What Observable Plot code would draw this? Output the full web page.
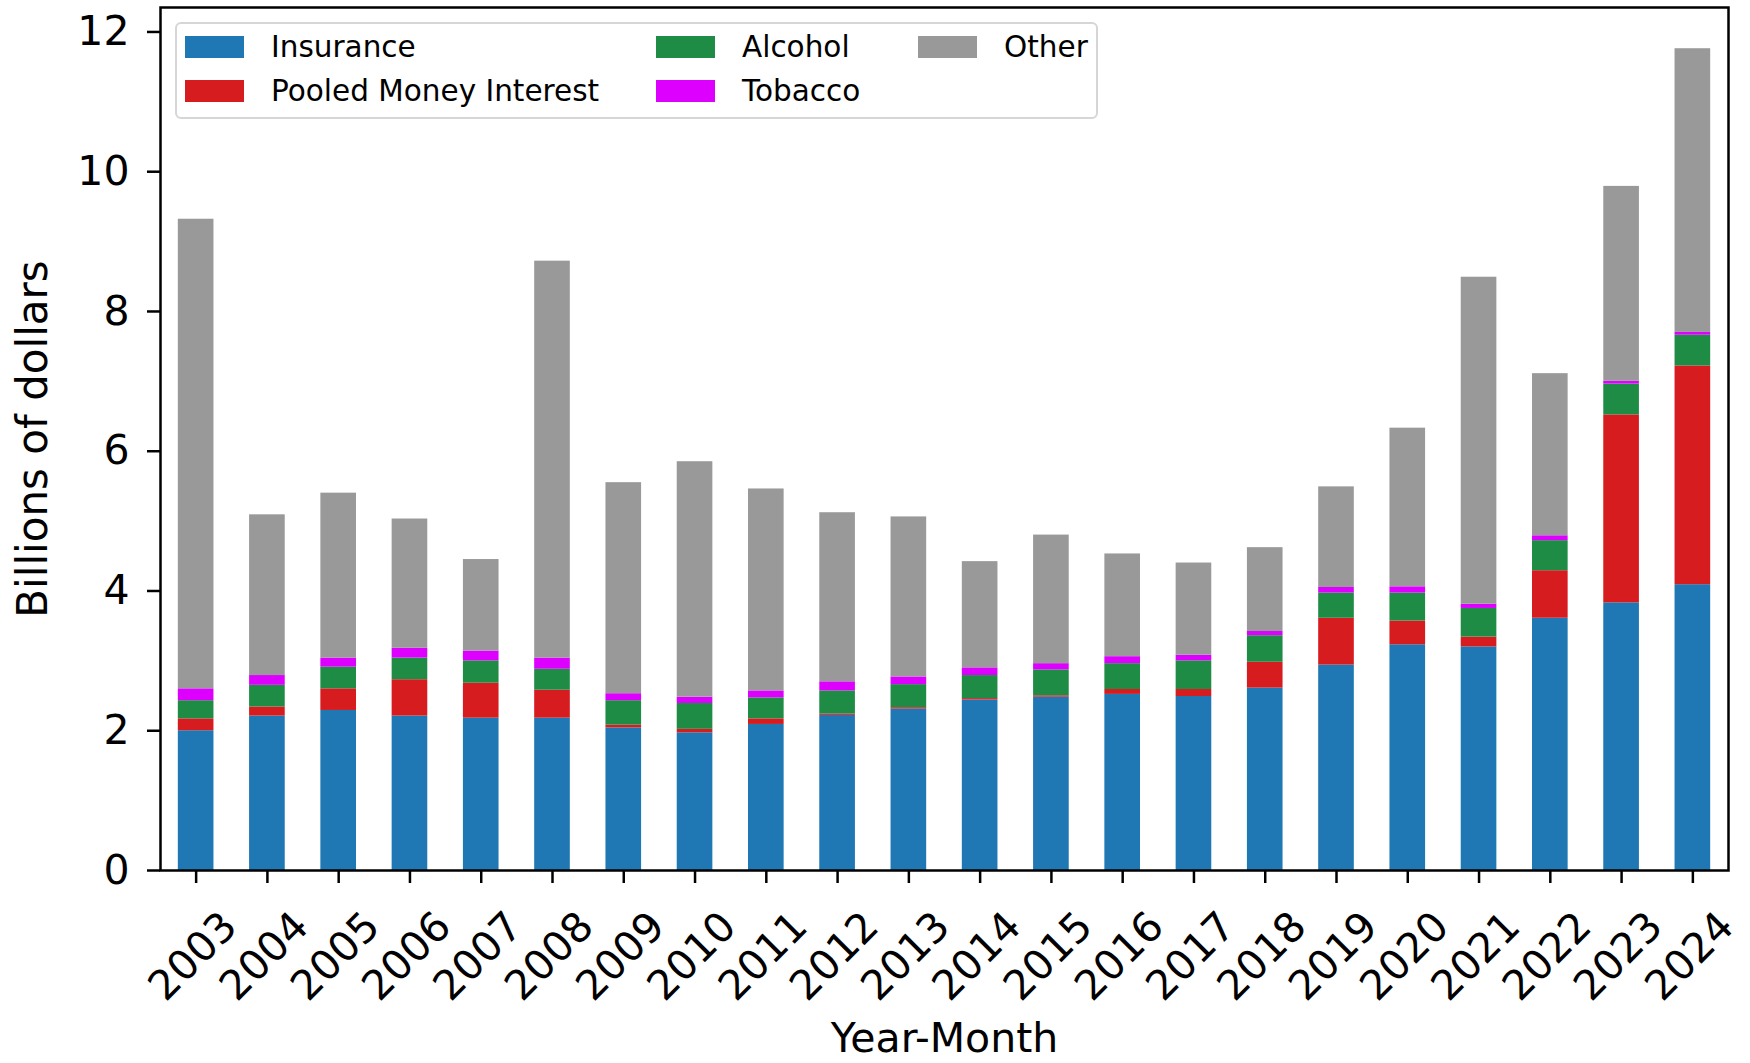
<!DOCTYPE html>
<html><head><meta charset="utf-8">
<script src="https://cdn.jsdelivr.net/npm/d3@7"></script>
<script src="https://cdn.jsdelivr.net/npm/@observablehq/plot@0.6"></script>
<style>
body{margin:0;background:#fff;font-family:"DejaVu Sans",sans-serif;}
#wrap{position:relative;width:1750px;height:1063px;overflow:hidden;}
.legend{position:absolute;left:175px;top:22px;width:923px;height:97px;border:2px solid #d6d6d6;border-radius:6px;background:rgba(255,255,255,0.85);box-sizing:border-box;}
.item{position:absolute;display:flex;align-items:center;font-size:29.5px;color:#000;height:30px;}
.sw{width:59px;height:22px;margin-right:27px;}
</style></head><body><div id="wrap"></div>
<script>
const years = ["2003","2004","2005","2006","2007","2008","2009","2010","2011","2012","2013","2014","2015","2016","2017","2018","2019","2020","2021","2022","2023","2024"];
const insurance = [2.00,2.21,2.29,2.21,2.18,2.18,2.04,1.97,2.09,2.22,2.31,2.44,2.48,2.52,2.49,2.61,2.94,3.23,3.20,3.61,3.83,4.09];
const pooled    = [0.17,0.13,0.31,0.52,0.50,0.40,0.04,0.05,0.08,0.02,0.02,0.02,0.02,0.07,0.10,0.37,0.67,0.34,0.14,0.68,2.69,3.13];
const alcohol   = [0.26,0.31,0.31,0.31,0.32,0.30,0.35,0.37,0.30,0.33,0.33,0.33,0.37,0.37,0.41,0.38,0.36,0.40,0.41,0.43,0.44,0.44];
const tobacco   = [0.17,0.14,0.13,0.14,0.14,0.16,0.10,0.09,0.10,0.13,0.11,0.11,0.09,0.10,0.08,0.06,0.08,0.09,0.06,0.07,0.04,0.04];
const other     = [6.72,2.30,2.36,1.85,1.31,5.68,3.02,3.37,2.89,2.42,2.29,1.52,1.84,1.47,1.32,1.20,1.44,2.27,4.68,2.32,2.79,4.06];
const categories = ["Insurance","Pooled Money Interest","Alcohol","Tobacco","Other"];
const colors = ["#1f77b4","#d71c1f","#1e8c45","#dd00ff","#999999"];
const yTicks = [0,2,4,6,8,10,12];
const xLabel = "Year-Month";
const yLabel = "Billions of dollars";

const series = [insurance, pooled, alcohol, tobacco, other];
const rows = [];
years.forEach((yr, i) => categories.forEach((c, j) => rows.push({year: yr, category: c, value: series[j][i]})));

const chart = Plot.plot({
  width: 1750, height: 1063,
  marginLeft: 160, marginRight: 22, marginTop: 7, marginBottom: 193,
  style: {fontFamily: "DejaVu Sans", fontSize: "41px", color: "#000", background: "#fff", overflow: "visible"},
  x: {domain: years, paddingInner: 0.5, paddingOuter: 0.25, round: false, label: null},
  y: {domain: [0, 12.35], label: null},
  color: {domain: categories, range: colors},
  marks: [
    Plot.barY(rows, {x: "year", y: "value", fill: "category", order: categories}),
    Plot.frame({stroke: "#000", strokeWidth: 2.5}),
    Plot.axisY({ticks: yTicks, tickSize: 13, tickPadding: 18, tickFormat: d => String(d), label: null, strokeWidth: 2.5, stroke: "#000", fontSize: 41}),
    Plot.axisX({tickSize: 13, tickFormat: () => "", label: null, strokeWidth: 2.5, stroke: "#000"}),
    Plot.text(years, {x: d => d, frameAnchor: "bottom", dx: -3, dy: 86, rotate: -45, text: d => d, fontSize: 41, textAnchor: "middle", lineAnchor: "middle", fill: "#000"}),
    Plot.text([xLabel], {frameAnchor: "bottom", dy: 168, text: d => d, fontSize: 41, lineAnchor: "middle", fill: "#000"}),
    Plot.text([yLabel], {frameAnchor: "left", dx: -127, rotate: -90, text: d => d, fontSize: 42, textAnchor: "middle", lineAnchor: "middle", fill: "#000"})
  ]
});

const wrap = document.getElementById("wrap");
wrap.appendChild(chart);

const legend = document.createElement("div");
legend.className = "legend";
const colLeft = [8, 479, 741];
const rowTop = [8, 52];
categories.forEach((c, i) => {
  const col = Math.floor(i / 2), row = i % 2;
  const it = document.createElement("div");
  it.className = "item";
  it.style.left = colLeft[col] + "px";
  it.style.top = rowTop[row] + "px";
  const sw = document.createElement("div");
  sw.className = "sw";
  sw.style.background = colors[i];
  const tx = document.createElement("span");
  tx.textContent = c;
  it.appendChild(sw); it.appendChild(tx);
  legend.appendChild(it);
});
wrap.appendChild(legend);
</script></body></html>
